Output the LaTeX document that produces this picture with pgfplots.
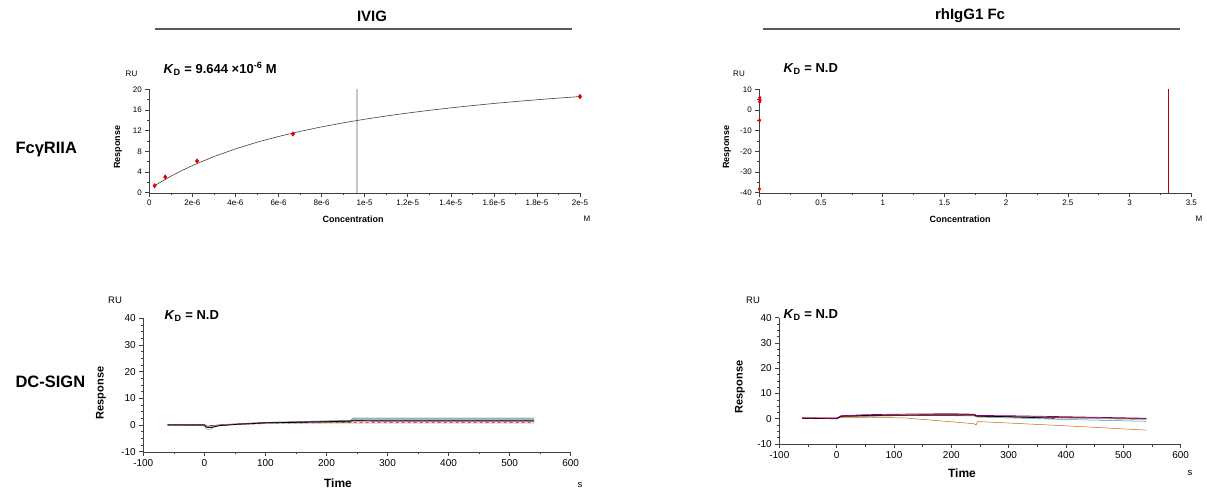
\documentclass[border=0pt]{standalone}
\usepackage{pgfplots}
\pgfplotsset{compat=1.18}
\usepackage{fontspec}
\setmainfont{Liberation Sans}

\newcommand{\fs}[1]{\fontsize{#1}{#1}\selectfont}

\pgfplotsset{
  spr/.style={
    scale only axis, anchor=south west, clip=false,
    axis lines=left, axis line style={-, black!75},
    tick align=outside, tick style={black!75, line width=0.5pt},
    major tick length=4pt, minor tick length=2.5pt,
    /pgf/number format/assume math mode=true,
    scaled x ticks=false, scaled y ticks=false,
  },
  small ticks/.style={ticklabel style={font=\fs{8}}},
  big ticks/.style={ticklabel style={font=\fs{10}}},
  fitpt/.style={only marks, mark=diamond*, mark size=2.3pt, color=red!90!black},
  trace/.style={line width=0.5pt},
}

\begin{document}
\begin{tikzpicture}[x=1pt,y=1pt]
\useasboundingbox (0,0) rectangle (1207,-493);
\coordinate (A) at (149.3,-192.7);
\coordinate (B) at (759.3,-192.7);
\coordinate (C) at (143.3,-451.7);
\coordinate (D) at (779.3,-444);

% column headers
\node[font=\fs{15}\bfseries] at (372,-16) {IVIG};
\draw[black!65, line width=1.3pt] (155,-29) -- (572,-29);
\node[font=\fs{15}\bfseries] at (970,-16) {rhIgG1 Fc};
\draw[black!65, line width=1.3pt] (763,-29) -- (1180,-29);

% row labels
\node[font=\fs{16.5}\bfseries, anchor=west] at (12,-150) {FcγRIIA};
\node[font=\fs{16.5}\bfseries, anchor=west] at (12,-382) {DC-SIGN};

% ---------- FcgRIIA / IVIG ----------
\begin{axis}[spr, small ticks, at={(A)}, width=430.7pt, height=103.4pt,
  xmin=0, xmax=2e-5, ymin=0, ymax=20,
  xtick={0,2e-6,4e-6,6e-6,8e-6,1e-5,1.2e-5,1.4e-5,1.6e-5,1.8e-5,2e-5},
  xticklabels={0,2e-6,4e-6,6e-6,8e-6,1e-5,1.2e-5,1.4e-5,1.6e-5,1.8e-5,2e-5},
  minor x tick num=1,
  ytick={0,4,...,20}, minor y tick num=1]
\addplot[black!22, line width=1.5pt] coordinates {(9.644e-6,0) (9.644e-6,20)};
\addplot[black!75, line width=0.6pt] coordinates {
  (0.247e-6,1.35) (0.5e-6,2.00) (1e-6,3.18) (1.5e-6,4.26) (2e-6,5.25)
  (3e-6,6.99) (4e-6,8.47) (5e-6,9.76) (6e-6,10.87) (7e-6,11.86)
  (8e-6,12.73) (9e-6,13.51) (10e-6,14.21) (11e-6,14.84) (12e-6,15.41)
  (13e-6,15.93) (14e-6,16.41) (15e-6,16.85) (16e-6,17.26) (17e-6,17.63)
  (18e-6,17.98) (19e-6,18.30) (20e-6,18.60)};
\addplot[fitpt] coordinates {
  (0.247e-6,1.35) (0.741e-6,3.03) (2.22e-6,6.13) (6.67e-6,11.35) (20e-6,18.6)};
\end{axis}
\node[font=\fs{8}] at (131.5,-74) {RU};
\node[font=\fs{13}\bfseries, anchor=west] at (160,-69)
  {\textit{K}\textsubscript{D} = 9.644 ×10\textsuperscript{-6} M};
\node[font=\fs{9}\bfseries] at (353,-219) {Concentration};
\node[font=\fs{8}] at (587,-219) {M};
\node[font=\fs{9}\bfseries, rotate=90] at (118,-147) {Response};

% ---------- FcgRIIA / rhIgG1 Fc ----------
\begin{axis}[spr, small ticks, at={(B)}, width=432pt, height=103.4pt,
  xmin=0, xmax=3.5, ymin=-40, ymax=10,
  xtick={0,0.5,...,3.5}, minor x tick num=1,
  ytick={-40,-30,...,10}, minor y tick num=1]
\addplot[red!75!black, line width=0.6pt] coordinates {(3.317,-40) (3.317,10)};
\addplot[fitpt, mark size=1.8pt] coordinates {
  (0.004,5.9) (0.006,4.8) (0.003,4.0) (0.002,-5.0) (0.001,-38.2)};
\end{axis}
\node[font=\fs{8}] at (739,-74) {RU};
\node[font=\fs{13}\bfseries, anchor=west] at (780,-69)
  {\textit{K}\textsubscript{D} = N.D};
\node[font=\fs{9}\bfseries] at (960,-219) {Concentration};
\node[font=\fs{8}] at (1199,-219) {M};
\node[font=\fs{9}\bfseries, rotate=90] at (727,-147) {Response};

% ---------- DC-SIGN / IVIG ----------
\begin{axis}[spr, big ticks, at={(C)}, width=427.4pt, height=133.4pt,
  xmin=-100, xmax=600, ymin=-10, ymax=40,
  xtick={-100,0,...,600}, minor x tick num=1,
  ytick={-10,0,...,40}, minor y tick num=3]
\addplot[trace, black!35] coordinates {
  (-60,0.1) (0,0.1) (3,-1.5) (8,-1.8) (20,-0.5) (50,0.3) (100,0.9) (160,1.3) (240,1.7)
  (243,2.7) (400,2.7) (540,2.7)};
\addplot[trace, green!45!gray] coordinates {
  (-60,0) (0,0) (5,-0.6) (30,0) (100,0.9) (170,1.4) (240,1.8) (243,2.4) (540,2.4)};
\addplot[trace, blue!80!black] coordinates {
  (-60,0) (0,-0.2) (5,-0.9) (30,-0.1) (100,0.7) (240,1.4) (243,1.9) (540,1.9)};
\addplot[trace, violet] coordinates {
  (-60,0.2) (0,0.2) (5,-0.5) (30,0.2) (100,1.0) (240,1.5) (243,1.7) (540,1.7)};
\addplot[trace, brown!80!black] coordinates {
  (-60,0) (0,0) (5,-0.4) (30,0.1) (100,0.6) (240,1.0) (243,1.2) (540,1.2)};
\addplot[trace, red!80!black, dashed] coordinates {
  (-60,0.1) (0,0) (5,-0.3) (30,0.1) (100,0.5) (240,0.9) (243,1.0) (540,1.0)};
\addplot[trace, black!20] coordinates {
  (-60,0) (0,0) (5,-0.7) (30,0) (100,0.5) (240,0.6) (243,0.6) (540,0.6)};
\addplot[trace, black, line width=0.7pt] coordinates {
  (-60,0) (0,0) (3,-0.8) (10,-1) (25,-0.2) (50,0.2) (100,0.8) (150,1.0) (200,1.2)
  (238,1.5) (243,1.6) (300,1.5) (540,1.5)};
\end{axis}
\node[font=\fs{9.5}] at (115,-300) {RU};
\node[font=\fs{13}\bfseries, anchor=west] at (161,-316)
  {\textit{K}\textsubscript{D} = N.D};
\node[font=\fs{12}\bfseries] at (338,-483) {Time};
\node[font=\fs{9.5}] at (580,-485) {s};
\node[font=\fs{11}\bfseries, rotate=90] at (101,-393) {Response};

% ---------- DC-SIGN / rhIgG1 Fc ----------
\begin{axis}[spr, big ticks, at={(D)}, width=401.4pt, height=126.3pt,
  xmin=-100, xmax=600, ymin=-10, ymax=40,
  xtick={-100,0,...,600}, minor x tick num=1,
  ytick={-10,0,...,40}, minor y tick num=3]
\addplot[trace, orange!80!black] coordinates {
  (-60,0.3) (0,0.2) (8,0.5) (60,0.6) (120,0.3) (200,-1.2) (240,-2.0) (243,-2.5)
  (246,-1.1) (400,-2.8) (540,-4.5)};
\addplot[trace, cyan!70!black] coordinates {
  (-60,0) (0,0) (8,0.8) (100,1.2) (200,1.2) (240,1.1) (244,0.7) (400,-0.3) (540,-1.0)};
\addplot[trace, black!45] coordinates {
  (-60,0) (0,0) (8,0.9) (100,1.2) (240,1.3) (244,0.8) (540,-0.3)};
\addplot[trace, green!55!black] coordinates {
  (-60,0) (0,0) (8,1.1) (100,1.4) (240,1.5) (244,1.0) (540,0)};
\addplot[trace, red!80!black] coordinates {
  (-60,0.3) (0,0.3) (8,1.0) (100,1.3) (240,1.4) (244,1.0) (540,0.1)};
\addplot[trace, black, line width=0.7pt] coordinates {
  (-60,0.2) (0,0) (8,1.0) (50,1.3) (100,1.5) (200,1.6) (240,1.6) (244,1.1) (300,0.8) (380,0.2)};
\addplot[trace, violet, line width=0.7pt] coordinates {
  (-60,0.3) (0,0.2) (8,1.2) (50,1.6) (100,1.8) (200,2.0) (240,1.8) (244,1.3) (300,1.2)
  (400,0.8) (540,0.2)};
\end{axis}
\node[font=\fs{9.5}] at (753,-300) {RU};
\node[font=\fs{13}\bfseries, anchor=west] at (780,-315)
  {\textit{K}\textsubscript{D} = N.D};
\node[font=\fs{12}\bfseries] at (962,-473) {Time};
\node[font=\fs{9.5}] at (1190,-473) {s};
\node[font=\fs{11}\bfseries, rotate=90] at (740,-387) {Response};
\end{tikzpicture}
\end{document}
